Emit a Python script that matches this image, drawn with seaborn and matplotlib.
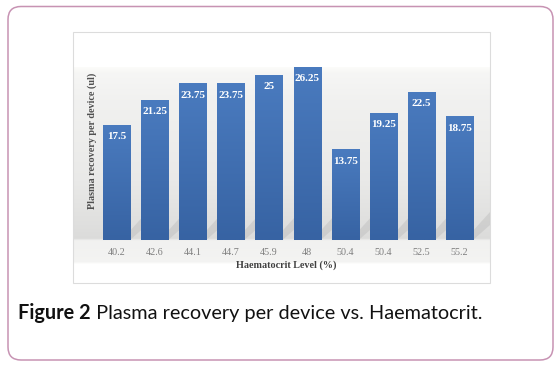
import matplotlib
matplotlib.use("Agg")
import matplotlib.pyplot as plt
import matplotlib.transforms as mtransforms
from matplotlib.patches import FancyBboxPatch, Rectangle, Polygon
import numpy as np
import pandas as pd
import seaborn as sns

# ---------------- data ----------------
haematocrit = ["40.2", "42.6", "44.1", "44.7", "45.9", "48", "50.4", "50.4", "52.5", "55.2"]
recovery = [17.5, 21.25, 23.75, 23.75, 25, 26.25, 13.75, 19.25, 22.5, 18.75]
value_labels = ["17.5", "21.25", "23.75", "23.75", "25", "26.25", "13.75", "19.25", "22.5", "18.75"]
x_label = "Haematocrit Level (%)"
y_label = "Plasma recovery per device (ul)"
caption_bold = "Figure 2"
caption_rest = " Plasma recovery per device vs. Haematocrit."

sns.set_theme(style="white")

W, H = 559, 365
fig = plt.figure(figsize=(W / 100, H / 100), dpi=100)
fig.patch.set_facecolor("white")


def rect(x0, y0, x1, y1):
    return [x0 / W, 1 - y1 / H, (x1 - x0) / W, (y1 - y0) / H]


ident = mtransforms.IdentityTransform()

# outer rounded border (pixel coordinates, y from bottom)
border = FancyBboxPatch((8, H - 360), 545, 353.5,
                        boxstyle="round,pad=0,rounding_size=13",
                        transform=ident, fill=False, edgecolor="#c793b3",
                        linewidth=1.1)
fig.patches.append(border)

# inner chart frame
frame = Rectangle((73, H - 283), 417, 251, transform=ident, fill=False,
                  edgecolor="#dcdcdc", linewidth=0.8)
fig.patches.append(frame)

# background gradient of plot area
bg = fig.add_axes(rect(73.5, 67, 489.5, 264), zorder=0)
ys = np.linspace(67, 264, 200)
stops_y = [67, 72, 100, 180, 225, 239, 240.5, 262, 264]
stops_c = [0.985, 0.965, 0.945, 0.915, 0.875, 0.86, 0.945, 0.955, 0.99]
vals = np.interp(ys, stops_y, stops_c)
img = np.repeat(vals[:, None], 4, axis=1)
bg.imshow(np.dstack([img, img, img * 0.995]), aspect="auto", extent=[0, 1, 1, 0],
          interpolation="bilinear")
bg.set_axis_off()

# main axes: bottom at bar baseline
spacing = 38.11
c0 = 116.5
ax_left_px, ax_right_px = 73.5, 489.5
ax = fig.add_axes(rect(ax_left_px, 66, ax_right_px, 240), zorder=2)
ax.patch.set_alpha(0)

df = pd.DataFrame({"idx": list(range(len(recovery))), "recovery": recovery})
sns.barplot(data=df, x="idx", y="recovery", color="#3e6db0", width=0.71,
            saturation=1, ax=ax, edgecolor="none")

ax.set_xlim((ax_left_px - c0) / spacing, (ax_right_px - c0) / spacing)
ax.set_ylim(0, (240 - 66) / 6.6)

# gradient fill on bars
grad = np.linspace(0, 1, 100)[:, None]
cols = np.zeros((100, 1, 3))
top_c = np.array([0x4a, 0x7b, 0xbf]) / 255
bot_c = np.array([0x37, 0x63, 0xa3]) / 255
for k in range(3):
    cols[:, 0, k] = top_c[k] + (bot_c[k] - top_c[k]) * grad[:, 0]
for p in list(ax.patches):
    x0, y0 = p.get_x(), p.get_y()
    w, h = p.get_width(), p.get_height()
    im = ax.imshow(cols, extent=[x0, x0 + w, y0, y0 + h], aspect="auto",
                   origin="upper", zorder=3, interpolation="bilinear")
    im.set_clip_path(p)

# diagonal floor shadows behind bars
for p in list(ax.patches):
    x0, w = p.get_x(), p.get_width()
    shadow = Polygon([(x0 + w, 0.0), (x0 + w, 1.4), (x0 + w + 0.55, 4.9), (x0 + w + 0.55, 2.8)],
                     closed=True, facecolor="#b8b8b8", edgecolor="none", alpha=0.4, zorder=1)
    ax.add_patch(shadow)

ax.set_xlim((ax_left_px - c0) / spacing, (ax_right_px - c0) / spacing)
ax.set_ylim(0, (240 - 66) / 6.6)

# value labels
for i, (v, lab) in enumerate(zip(recovery, value_labels)):
    ax.annotate(lab, xy=(i, v), xytext=(0, -8.5), textcoords="offset points",
                ha="center", va="center", color="white", fontsize=8,
                fontweight="bold", family="Liberation Serif", zorder=5)

ax.set_xticks(range(len(haematocrit)))
ax.set_xticklabels(haematocrit, family="Liberation Serif", fontsize=7.3, color="#7f7f7f")
ax.tick_params(axis="x", length=0, pad=5.5)
ax.set_yticks([])
for s in ax.spines.values():
    s.set_visible(False)
ax.set_xlabel("")
ax.set_ylabel("")

fig.text(286 / W, 1 - 265 / H, x_label, ha="center", va="center",
         family="Liberation Serif", fontweight="bold", fontsize=7.3, color="#404040")
fig.text(92 / W, 1 - 141 / H, y_label, ha="center", va="center", rotation=90,
         family="Liberation Serif", fontweight="bold", fontsize=7.3, color="#505050")

# caption
fig.canvas.draw()
r = fig.canvas.get_renderer()
t1 = fig.text(18 / W, 1 - 313 / H, caption_bold, ha="left", va="center",
              family="Lato", fontweight="bold", fontsize=14.3, color="#111111")
bb = t1.get_window_extent(renderer=r)
fig.text(bb.x1 / W, 1 - 313 / H, caption_rest, ha="left", va="center",
         family="Lato", fontsize=14.3, color="#111111")

fig.savefig("out.png", dpi=100)
